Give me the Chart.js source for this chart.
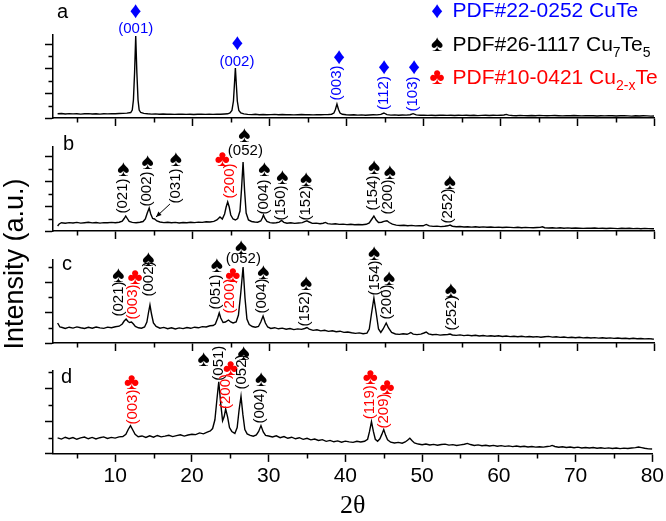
<!doctype html>
<html lang="en">
<head>
<meta charset="utf-8" />
<title>XRD CuTe / Cu7Te5 / Cu2-xTe</title>
<script src="https://cdn.jsdelivr.net/npm/chart.js@4.4.0/dist/chart.umd.min.js"></script>
<style>
  html, body { margin: 0; padding: 0; background: #fff; }
  #fig { position: relative; width: 666px; height: 521px; overflow: hidden; }
  #fig canvas { position: absolute; left: 0; top: 0; }
</style>
</head>
<body>
<div id="fig">
  <canvas id="panelA" width="666" height="521"></canvas>
  <canvas id="panelB" width="666" height="521"></canvas>
  <canvas id="panelC" width="666" height="521"></canvas>
  <canvas id="panelD" width="666" height="521"></canvas>
</div>
<script>
// ---- dati (2theta, intensita in u.a.) ----
const xMajor = [10, 20, 30, 40, 50, 60, 70, 80];
const xMinor = [5, 15, 25, 35, 45, 55, 65, 75];

// campione a
const thetaA = [
  2.5, 3, 3.5, 4, 4.5, 5, 5.5, 6, 6.5, 7, 7.5, 8, 8.5, 9, 9.5, 10, 10.5, 11, 11.5,
  12, 12.2, 12.35, 12.5, 12.65, 12.8, 12.95, 13.1, 13.3, 13.7,
  14.2, 14.7, 15.2, 15.7, 16.2, 16.7, 17.2, 17.7, 18.2, 18.7, 19.2, 19.7, 20.2, 20.7, 21.2, 21.7, 22.2, 22.7, 23.2, 23.7, 24.2,
  24.6, 24.9, 25.15, 25.35, 25.48, 25.6, 25.72, 25.85, 26.05, 26.3, 26.7,
  27.2, 27.7, 28.2, 28.7, 29.2, 29.7, 30.2, 30.7, 31.2, 31.7, 32.2, 32.7, 33.2, 33.7, 34.2, 34.7, 35.2, 35.7, 36.2, 36.7, 37.2, 37.7,
  38.1, 38.4, 38.6, 38.8, 39.0, 39.2, 39.5,
  40, 40.5, 41, 41.5, 42, 42.5, 43, 43.5, 44, 44.5,
  44.9, 45.3,
  45.8, 46.3, 46.8, 47.3, 47.8, 48.3,
  48.7, 49.1,
  49.6, 50.1, 50.6, 51.1, 51.6, 52.1, 52.6, 53.1, 53.6, 54.1, 54.6, 55.1, 55.6, 56.1, 56.6, 57.1, 57.6, 58.1, 58.6, 59.1, 59.6, 60.1,
  60.5, 60.8, 61.1,
  61.6, 62.1, 62.6, 63.1, 63.6, 64.1, 64.6, 65.1, 65.6, 66.1, 66.6, 67.1, 67.6, 68.1, 68.6, 69.1, 69.6, 70.1, 70.6,
  71.1, 71.6, 72.1, 72.6, 73.1, 73.6, 74.1, 74.6, 75.1, 75.6, 76.1, 76.6, 77.1, 77.6, 78.1, 78.6, 79.1, 79.6, 80
];
const intensityA = [
  4.2, 4.5, 4.0, 4.4, 4.1, 4.3, 3.9, 4.2, 4.4, 4.0, 4.2, 3.9, 4.3, 4.1, 4.4, 4.2, 4.5, 4.6, 4.9,
  5.5, 8, 18, 45, 82, 45, 18, 8, 5.5, 4.6,
  4.2, 3.9, 4.1, 3.8, 4.0, 3.7, 3.9, 3.6, 3.8, 3.9, 3.6, 3.8, 3.5, 3.7, 3.9, 3.6, 3.8, 3.6, 3.9, 3.7, 4.0,
  4.2, 5, 7.5, 17, 34, 50, 34, 17, 7.5, 5, 4.1,
  3.6, 3.4, 3.7, 3.3, 3.5, 3.2, 3.4, 3.6, 3.3, 3.5, 3.2, 3.4, 3.1, 3.3, 3.5, 3.2, 3.4, 3.1, 3.3, 3.2, 3.4, 3.5,
  3.8, 5, 8.5, 14, 8.5, 5, 3.7,
  3.2, 3.0, 3.3, 2.9, 3.1, 2.8, 3.0, 3.2, 3.1, 3.6,
  5, 3.4,
  2.9, 3.1, 2.8, 3.0, 2.9, 3.3,
  4.3, 3.1,
  2.7, 2.9, 2.6, 2.8, 2.5, 2.7, 2.9, 2.6, 2.8, 2.5, 2.7, 2.6, 2.8, 2.5, 2.7, 2.4, 2.6, 2.8, 2.5, 2.7, 2.6, 2.8,
  3.0, 3.6, 2.9,
  2.5, 2.3, 2.6, 2.4, 2.2, 2.5, 2.3, 2.6, 2.4, 2.2, 2.4, 2.5, 2.3, 2.1, 2.4, 2.2, 2.5, 2.3, 2.1,
  2.3, 2.4, 2.2, 2.0, 2.3, 2.1, 2.4, 2.2, 2.0, 2.2, 2.3, 2.1, 1.9, 2.2, 2.0, 2.3, 2.1, 1.9, 2.0
];

// campione b
const thetaB = [
  2.5, 2.7, 3.0,
  3.5, 4, 4.5, 5, 5.5, 6, 6.5, 7, 7.5, 8, 8.5, 9, 9.5, 10, 10.5,
  10.9, 11.15, 11.35, 11.55, 11.8,
  12.2, 12.7, 13.2, 13.6,
  13.9, 14.15, 14.4, 14.6, 14.85, 15.1, 15.4,
  15.8, 16.3, 16.8, 17.3, 17.8, 18.3, 18.8, 19.3, 19.8, 20.3, 20.8, 21.3, 21.8, 22.3, 22.8,
  23.2, 23.6, 23.9, 24.2, 24.4, 24.6, 24.8, 25.0, 25.3, 25.6, 25.9, 26.2, 26.4, 26.6, 26.8, 27.0, 27.3,
  27.7, 28.1, 28.5, 28.9,
  29.1, 29.25, 29.4, 29.7,
  30.1, 30.5, 30.9, 31.3,
  31.6, 31.9,
  32.3, 32.8, 33.3, 33.8, 34.3,
  34.6, 34.9, 35.2,
  35.6, 36.1, 36.6, 37.0,
  37.3, 37.6,
  38.1, 38.6, 39.1, 39.6, 40.1, 40.6, 41.1, 41.6, 42.1, 42.6,
  43.0, 43.3, 43.6, 43.9, 44.2, 44.6, 44.9, 45.3, 45.6, 46.0,
  46.5, 47, 47.5, 48, 48.5, 49, 49.5, 50.0,
  50.4, 50.8,
  51.3, 51.8, 52.3, 52.8,
  53.2, 53.5, 53.8,
  54.3, 54.8, 55.3, 55.8, 56.3, 56.8, 57.3, 57.8, 58.3, 58.8, 59.3, 59.8, 60.3, 60.8, 61.3, 61.8, 62.3, 62.8, 63.3, 63.8, 64.3, 64.8,
  65.2, 65.5, 65.8,
  66.3, 66.8, 67.3, 67.8, 68.3, 68.8, 69.3, 69.8, 70.3, 70.8, 71.3, 71.8, 72.3, 72.8, 73.3, 73.8, 74.3, 74.8,
  75.3, 75.8, 76.3, 76.8, 77.3, 77.8, 78.3, 78.8, 79.3, 79.8, 80
];
const intensityB = [
  5, 7, 8.3,
  7.8, 8.4, 8.0, 8.6, 7.9, 8.3, 8.7, 8.1, 8.5, 7.9, 8.4, 8.2, 8.6, 8.3, 8.8,
  9.8, 12.5, 15, 12.5, 9.5,
  8.6, 8.2, 8.8, 9.5,
  12, 18, 23, 17, 12.5, 12, 10,
  9.0, 8.4, 8.8, 8.2, 8.6, 8.0, 8.5, 8.3, 8.7, 8.4, 8.9, 8.6, 9.2, 9.0, 9.6,
  11, 14, 12, 17, 24, 29, 24, 16, 12, 11, 12.5, 20, 42, 69, 40, 18, 11,
  9.5, 9.0, 8.8, 10,
  13, 16, 13, 9.5,
  8.4, 8.0, 8.3, 8.9,
  10.5, 8.6,
  7.8, 8.2, 7.6, 8.0, 8.4,
  9.3, 10.2, 9.0,
  7.6, 7.9, 7.3, 7.8,
  8.6, 7.4,
  6.9, 7.2, 6.6, 6.9, 6.4, 6.7, 6.2, 6.5, 6.3, 6.7,
  8, 11.5, 15, 11, 8.5, 8.8, 9.6, 10.3, 8.5, 6.8,
  5.9, 5.5, 5.8, 5.3, 5.6, 5.1, 5.4, 5.2,
  6.6, 5.1,
  4.6, 4.9, 4.4, 4.7,
  5.2, 5.9, 4.8,
  4.2, 4.5, 4.0, 4.3, 3.9, 4.2, 3.8, 4.1, 3.7, 4.0, 3.6, 3.9, 3.5, 3.8, 3.6, 3.4, 3.7, 3.3, 3.6, 3.4, 3.2, 3.5,
  3.6, 4.2, 3.3,
  3.0, 3.3, 2.9, 3.2, 2.8, 3.1, 2.7, 3.0, 2.8, 2.6, 2.9, 2.7, 3.0, 2.6, 2.8, 2.5, 2.8, 2.6,
  2.4, 2.7, 2.5, 2.8, 2.4, 2.6, 2.3, 2.6, 2.4, 2.2, 2.3
];

// campione c
const thetaC = [
  2.5, 2.8, 3.1,
  3.5, 4, 4.5, 5, 5.5, 6, 6.5, 7, 7.5, 8, 8.5, 9, 9.5, 10, 10.5,
  10.9, 11.15, 11.4, 11.65, 11.85, 12.1, 12.35, 12.6,
  13.0, 13.4, 13.8,
  14.1, 14.3, 14.5, 14.7, 14.95, 15.3,
  15.8, 16.3, 16.8, 17.3, 17.8, 18.3, 18.8, 19.3, 19.8, 20.3, 20.8, 21.3, 21.8, 22.3,
  22.7, 23.0, 23.3, 23.5, 23.7, 24.0, 24.3, 24.7, 25.0, 25.3, 25.7, 26.0, 26.3, 26.6, 26.85, 27.1, 27.4, 27.8,
  28.2, 28.6,
  28.9, 29.2, 29.5, 29.8,
  30.2, 30.7, 31.2, 31.7, 32.2, 32.7, 33.2, 33.7, 34.2,
  34.6, 34.9, 35.2,
  35.7, 36.2, 36.7, 37.2, 37.7, 38.2, 38.7, 39.2, 39.7, 40.2, 40.7, 41.2, 41.7, 42.2, 42.7,
  43.0, 43.3, 43.6, 43.9, 44.2, 44.5, 44.8, 45.2, 45.5, 45.9, 46.4,
  46.9, 47.4, 47.9,
  48.2, 48.4, 48.7,
  49.2, 49.7,
  50.1, 50.4, 50.7,
  51.2, 51.7, 52.2, 52.7,
  53.2, 53.5, 53.8,
  54.3, 54.8, 55.3, 55.8, 56.3, 56.8, 57.3, 57.8, 58.3, 58.8, 59.3, 59.8, 60.3, 60.8, 61.3, 61.8, 62.3, 62.8,
  63.3, 63.8, 64.3, 64.8, 65.3, 65.8, 66.3, 66.8, 67.3, 67.8, 68.3, 68.8, 69.3, 69.8, 70.3, 70.8, 71.3, 71.8,
  72.3, 72.8, 73.3, 73.8, 74.3, 74.8, 75.3, 75.8, 76.3, 76.8, 77.3, 77.8, 78.3, 78.8, 79.3, 79.8, 80
];
const intensityC = [
  20, 16, 15.5,
  14.6, 15.8, 14.9, 16.1, 15.2, 14.5, 15.7, 14.8, 16.0, 15.1, 14.6, 15.9, 15.3, 16.2, 16.8,
  19, 22, 24, 21.5, 20.5, 21, 19, 16.5,
  15.2, 14.8, 16,
  21, 30, 38, 29, 20, 16.5,
  14.8, 15.6, 14.3, 15.2, 14.0, 15.1, 14.4, 15.5, 14.7, 15.8, 15.2, 16.4, 16.0, 17.2,
  17.5, 19, 25, 30, 25, 20.5, 21, 23, 21, 20, 21, 28, 50, 76, 45, 24, 18.5, 16.5,
  15.8, 16.5,
  21, 27, 20, 16,
  14.6, 15.3, 14.2, 14.9, 13.8, 14.5, 13.4, 14.1, 13.6,
  14.5, 15.5, 13.9,
  12.6, 13.2, 12.1, 12.7, 11.6, 12.2, 11.2, 11.8, 10.6, 11.0, 10.2, 9.6, 10.1, 9.3, 9.8,
  14, 30, 45, 30, 14, 10.5, 14, 20, 15, 10.5, 9.0,
  8.6, 9.2, 8.7,
  9.6, 10.5, 8.9,
  8.4, 8.9,
  10, 11, 9.1,
  8.2, 8.6, 7.9, 8.3,
  8.5, 9.0, 8.0,
  7.6, 8.1, 7.4, 7.9, 7.2, 7.7, 7.0, 7.5, 6.9, 7.3, 6.7, 7.2, 6.5, 7.0, 6.4, 6.8, 6.2, 6.7,
  6.1, 6.5, 6.0, 6.4, 5.8, 6.3, 6.6, 5.9, 6.2, 5.6, 6.0, 5.4, 5.8, 5.3, 5.7, 5.1, 5.5, 5.0,
  5.4, 4.9, 5.2, 4.7, 5.1, 4.6, 5.0, 4.5, 4.8, 4.3, 4.7, 4.2, 4.5, 4.1, 4.4, 4.0, 3.9
];

// campione d
const thetaD = [
  2.5, 3, 3.5, 4, 4.5, 5, 5.5, 6, 6.5, 7, 7.5, 8, 8.5, 9, 9.5, 10, 10.5,
  11.0, 11.4, 11.7, 12.0, 12.3, 12.6, 13.0,
  13.5, 14, 14.5, 15, 15.5, 16, 16.5, 17, 17.5, 18, 18.5, 19, 19.5, 20,
  20.5, 21.0, 21.5, 22.0, 22.4, 22.7, 23.0, 23.25, 23.5, 23.75, 24.0, 24.2, 24.4, 24.65, 24.9, 25.2, 25.6, 25.9, 26.15, 26.4, 26.65, 26.9, 27.2, 27.6,
  28.0, 28.4, 28.7, 29.0, 29.3, 29.6, 30.0,
  30.5, 31, 31.5, 32, 32.5, 33, 33.5, 34, 34.5, 35, 35.5, 36, 36.5, 37, 37.5, 38, 38.5, 39, 39.5, 40, 40.5, 41, 41.5, 42, 42.5,
  42.9, 43.15, 43.4, 43.65, 43.9, 44.2, 44.5, 44.75, 45.0, 45.25, 45.5, 45.9,
  46.4, 46.9, 47.4, 47.8,
  48.1, 48.4, 48.7, 49.0,
  49.5, 50, 50.5, 51, 51.5, 52, 52.5, 53, 53.5, 54, 54.5, 55,
  55.5, 55.9, 56.3,
  56.8, 57.3, 57.8, 58.3, 58.8, 59.3, 59.8, 60.3, 60.8, 61.3, 61.8, 62.3, 62.8, 63.3, 63.8, 64.3, 64.8, 65.3, 65.8, 66.3,
  66.7, 66.95, 67.3,
  67.8, 68.3, 68.8, 69.3, 69.8, 70.3, 70.8, 71.3, 71.8, 72.3, 72.8, 73.3, 73.8, 74.3, 74.8, 75.3, 75.8, 76.3, 76.8, 77.3, 77.8,
  78.2, 78.6, 79.0, 79.5, 80
];
const intensityD = [
  16.5, 15.2, 17.1, 15.6, 16.8, 15.0, 16.4, 17.3, 15.5, 16.9, 15.3, 16.6, 17.4, 15.8, 16.9, 16.2, 17.5,
  17.8, 20, 25, 29, 24.5, 20, 17.6,
  18.4, 16.9, 18.6, 17.2, 18.9, 17.5, 18.2, 19.1, 17.7, 18.8, 19.6, 18.3, 19.4, 20.2,
  19.8, 21.5, 20.6, 22.4, 23.5, 26, 35, 55, 74, 52, 34, 38, 46, 38, 27, 23, 21, 27, 45, 59, 40, 25, 20.5, 19,
  18.2, 19.5, 23, 29, 22.5, 19, 18.3,
  17.4, 18.5, 16.6, 17.8, 16.0, 17.1, 15.5, 16.6, 14.9, 16.0, 14.4, 15.2, 13.8, 14.6, 12.9, 13.8, 12.4, 13.3, 12.0, 13.1, 12.3, 11.8, 12.9, 12.2, 13.0,
  15, 23, 33, 23, 15, 13, 15.5, 20, 25, 19, 14.5, 12,
  11.2, 11.8, 11.0, 12.2,
  14, 16, 13.5, 11.2,
  10.1, 9.4, 10.2, 9.1, 9.8, 8.9, 9.6, 10.0, 9.0, 9.5, 8.7, 9.3,
  9.9, 10.8, 9.6,
  8.6, 9.2, 8.4, 8.9, 8.1, 8.7, 7.9, 8.5, 7.7, 8.2, 7.5, 8.1, 7.3, 7.9, 7.1, 7.6, 7.0, 7.4, 7.0, 7.6,
  8.0, 8.7, 7.6,
  6.8, 7.3, 6.5, 7.0, 6.3, 6.9, 6.1, 6.6, 6.0, 6.5, 5.8, 6.3, 5.7, 6.2, 5.5, 6.0, 5.4, 5.9, 5.6, 6.1, 6.4,
  7.0, 6.4, 5.8, 5.2, 5.0
];

// fasi di riferimento (simbolo, colore)
const phaseSymbol = ['\u2666', '\u2660', '\u2663'];
const phaseColor = ['#0000ff', '#000000', '#ff0000'];

// indicizzazione dei picchi: simbolo (sx, sy) e etichetta (lx, ly) in coordinate 2theta / intensita
const marksA = [
  {hkl: '(001)', phase: 0, sx: 12.65, sy: 107, lx: 12.65, ly: 89, rot: false},
  {hkl: '(002)', phase: 0, sx: 25.86, sy: 75, lx: 25.8, ly: 56, rot: false},
  {hkl: '(003)', phase: 0, sx: 39.08, sy: 61, lx: 38.75, ly: 35, rot: true},
  {hkl: '(112)', phase: 0, sx: 44.93, sy: 51, lx: 44.9, ly: 25, rot: true},
  {hkl: '(103)', phase: 0, sx: 48.83, sy: 51, lx: 48.7, ly: 24, rot: true}
];
const marksB = [
  {hkl: '(021)', phase: 1, sx: 11.04, sy: 62, lx: 11.0, ly: 35, rot: true},
  {hkl: '(002)', phase: 1, sx: 14.21, sy: 69, lx: 14.08, ly: 42, rot: true},
  {hkl: '(031)', phase: 1, sx: 17.85, sy: 72, lx: 17.85, ly: 45, rot: true},
  {hkl: '(200)', phase: 2, sx: 23.91, sy: 72, lx: 24.91, ly: 50, rot: true},
  {hkl: '(052)', phase: 1, sx: 26.77, sy: 96, lx: 26.9, ly: 80, rot: false},
  {hkl: '(004)', phase: 1, sx: 29.37, sy: 62, lx: 29.24, ly: 34, rot: true},
  {hkl: '(150)', phase: 1, sx: 31.71, sy: 54, lx: 31.54, ly: 28, rot: true},
  {hkl: '(152)', phase: 1, sx: 34.79, sy: 52, lx: 34.75, ly: 28, rot: true},
  {hkl: '(154)', phase: 1, sx: 43.63, sy: 64, lx: 43.5, ly: 38, rot: true},
  {hkl: '(200)', phase: 1, sx: 45.67, sy: 59, lx: 45.46, ly: 34, rot: true},
  {hkl: '(252)', phase: 1, sx: 53.48, sy: 49, lx: 53.26, ly: 25, rot: true}
];
const marksC = [
  {hkl: '(021)', phase: 1, sx: 10.39, sy: 68, lx: 10.52, ly: 44, rot: true},
  {hkl: '(003)', phase: 2, sx: 12.56, sy: 66, lx: 12.34, ly: 41, rot: true},
  {hkl: '(002)', phase: 1, sx: 14.29, sy: 84.5, lx: 14.42, ly: 64, rot: true},
  {hkl: '(051)', phase: 1, sx: 23.18, sy: 78, lx: 23.09, ly: 51, rot: true},
  {hkl: '(200)', phase: 2, sx: 25.26, sy: 68, lx: 24.91, ly: 47, rot: true},
  {hkl: '(052)', phase: 1, sx: 26.34, sy: 96, lx: 26.64, ly: 84.5, rot: false},
  {hkl: '(004)', phase: 1, sx: 29.24, sy: 71, lx: 29.03, ly: 47, rot: true},
  {hkl: '(152)', phase: 1, sx: 34.79, sy: 60, lx: 34.66, ly: 34, rot: true},
  {hkl: '(154)', phase: 1, sx: 43.63, sy: 90, lx: 43.72, ly: 65, rot: true},
  {hkl: '(200)', phase: 1, sx: 45.58, sy: 65, lx: 45.33, ly: 41, rot: true},
  {hkl: '(252)', phase: 1, sx: 53.61, sy: 53, lx: 53.69, ly: 30, rot: true}
];
const marksD = [
  {hkl: '(003)', phase: 2, sx: 12.13, sy: 74, lx: 12.34, ly: 48, rot: true},
  {hkl: '(051)', phase: 1, sx: 21.53, sy: 98, lx: 23.55, ly: 93, rot: true},
  {hkl: '(200)', phase: 2, sx: 25.04, sy: 88, lx: 24.48, ly: 64, rot: true},
  {hkl: '(052)', phase: 1, sx: 26.73, sy: 104, lx: 26.47, ly: 84, rot: true},
  {hkl: '(004)', phase: 1, sx: 29.03, sy: 77, lx: 28.9, ly: 49, rot: true},
  {hkl: '(119)', phase: 2, sx: 43.25, sy: 79, lx: 43.2, ly: 53, rot: true},
  {hkl: '(209)', phase: 2, sx: 45.42, sy: 69, lx: 45.07, ly: 44, rot: true}
];
// freccia (031) del campione b: da etichetta a spalla del picco
const arrowsB = [{x1: 17.1, y1: 27, x2: 15.28, y2: 14}];

// legenda: testo diviso in parti normali / pedici
const legendRows = [
  {phase: 0, parts: [['PDF#22-0252 CuTe', false]]},
  {phase: 1, parts: [['PDF#26-1117 Cu', false], ['7', true], ['Te', false], ['5', true]]},
  {phase: 2, parts: [['PDF#10-0421 Cu', false], ['2-x', true], ['Te', false]]}
];
const yTitle = 'Intensity (a.u.)';
const xTitle = '2\u03b8';

const SANS = '"Liberation Sans", Arial, sans-serif';

// pannelli: posizione area dati (pixel) e tacche
const panels = [
  {canvas: 'panelA', letter: 'a', theta: thetaA, intensity: intensityA, marks: marksA, arrows: [],
   top: 35, bottom: 118, yMajor: [0, 24.67, 49.33, 74], yMinor: [12.33, 37, 61.67], letterAt: [4, -17]},
  {canvas: 'panelB', letter: 'b', theta: thetaB, intensity: intensityB, marks: marksB, arrows: arrowsB,
   top: 147, bottom: 231, yMajor: [0, 25, 50, 75], yMinor: [12.5, 37.5, 62.5], letterAt: [10, 3]},
  {canvas: 'panelC', letter: 'c', theta: thetaC, intensity: intensityC, marks: marksC, arrows: [],
   top: 260, bottom: 343, yMajor: [0, 30.4, 60.8], yMinor: [15.2, 45.6, 76], letterAt: [9, 10]},
  {canvas: 'panelD', letter: 'd', theta: thetaD, intensity: intensityD, marks: marksD, arrows: [],
   top: 371, bottom: 456, yMajor: [0, 33.4, 66.8], yMinor: [16.7, 50.1, 83.5], letterAt: [8, 12]}
];

function buildPoints(xs, ys) {
  const n = Math.min(xs.length, ys.length);
  const pts = [];
  for (let i = 0; i < n; i++) pts.push({x: xs[i], y: ys[i]});
  return pts;
}

//plugin per tacche minori, lettera del pannello, simboli e indici hkl
function panelDecor(p) {
  return {
    id: 'panelDecor',
    afterDraw(chart) {
      const ctx = chart.ctx;
      const sx = chart.scales.x, sy = chart.scales.y;
      const area = chart.chartArea;
      ctx.save();
      ctx.strokeStyle = '#000';
      ctx.lineWidth = 1.5;
      ctx.beginPath();
      xMinor.forEach(v => {
        const px = Math.round(sx.getPixelForValue(v)) + 0.5;
        ctx.moveTo(px, area.bottom);
        ctx.lineTo(px, area.bottom + 4.5);
      });
      p.yMinor.forEach(v => {
        const py = Math.round(sy.getPixelForValue(v)) + 0.5;
        ctx.moveTo(area.left, py);
        ctx.lineTo(area.left - 4.5, py);
      });
      ctx.stroke();

      ctx.fillStyle = '#000';
      ctx.font = '20px ' + SANS;
      ctx.textAlign = 'left';
      ctx.textBaseline = 'alphabetic';
      ctx.fillText(p.letter, area.left + p.letterAt[0], area.top + p.letterAt[1]);

      ctx.textAlign = 'center';
      ctx.textBaseline = 'middle';
      p.marks.forEach(m => {
        ctx.fillStyle = phaseColor[m.phase];
        ctx.font = '23px ' + SANS;
        ctx.fillText(phaseSymbol[m.phase], sx.getPixelForValue(m.sx), sy.getPixelForValue(m.sy) + 1);
        ctx.font = '15px ' + SANS;
        const lx = sx.getPixelForValue(m.lx), ly = sy.getPixelForValue(m.ly);
        if (m.rot) {
          ctx.save();
          ctx.translate(lx, ly);
          ctx.rotate(-Math.PI / 2);
          ctx.fillText(m.hkl, 0, 0);
          ctx.restore();
        } else {
          ctx.fillText(m.hkl, lx, ly);
        }
      });

      p.arrows.forEach(a => {
        const x1 = sx.getPixelForValue(a.x1), y1 = sy.getPixelForValue(a.y1);
        const x2 = sx.getPixelForValue(a.x2), y2 = sy.getPixelForValue(a.y2);
        const ang = Math.atan2(y2 - y1, x2 - x1);
        ctx.strokeStyle = '#000';
        ctx.fillStyle = '#000';
        ctx.lineWidth = 1;
        ctx.beginPath();
        ctx.moveTo(x1, y1);
        ctx.lineTo(x2, y2);
        ctx.stroke();
        ctx.beginPath();
        ctx.moveTo(x2, y2);
        ctx.lineTo(x2 - 6 * Math.cos(ang - 0.4), y2 - 6 * Math.sin(ang - 0.4));
        ctx.lineTo(x2 - 6 * Math.cos(ang + 0.4), y2 - 6 * Math.sin(ang + 0.4));
        ctx.closePath();
        ctx.fill();
      });
      ctx.restore();
    }
  };
}

//plugin per titolo asse Y e legenda delle schede PDF
const figureText = {
  id: 'figureText',
  afterDraw(chart) {
    const ctx = chart.ctx;
    ctx.save();
    ctx.fillStyle = '#000';
    ctx.font = '27px ' + SANS;
    ctx.textAlign = 'center';
    ctx.textBaseline = 'middle';
    ctx.translate(16, 264);
    ctx.rotate(-Math.PI / 2);
    ctx.fillText(yTitle, 0, 0);
    ctx.restore();

    ctx.save();
    legendRows.forEach((row, i) => {
      const base = 17.3 + i * 33.4;
      ctx.fillStyle = phaseColor[row.phase];
      ctx.textAlign = 'center';
      ctx.textBaseline = 'middle';
      ctx.font = '23px ' + SANS;
      ctx.fillText(phaseSymbol[row.phase], 437, base - 6);
      ctx.textAlign = 'left';
      ctx.textBaseline = 'alphabetic';
      let x = 452.5;
      row.parts.forEach(([txt, sub]) => {
        ctx.font = (sub ? '14px ' : '21px ') + SANS;
        ctx.fillText(txt, x, base + (sub ? 6 : 0));
        x += ctx.measureText(txt).width;
      });
    });
    ctx.restore();
  }
};

panels.forEach(p => {
  const isBottom = p.letter === 'd';
  const xAxisHeight = isBottom ? 8 + 2 + 21 * 1.2 + 26 * 1.15 : 8;
  const axisGrid = {display: true, drawOnChartArea: false, drawTicks: true, tickLength: 8,
                    tickWidth: 1.5, color: '#000', tickColor: '#000'};
  const axisBorder = {display: true, color: '#000', width: 1.5};
  new Chart(document.getElementById(p.canvas), {
    type: 'line',
    data: {
      datasets: [{
        data: buildPoints(p.theta, p.intensity),
        borderColor: '#000',
        borderWidth: 1.4,
        pointRadius: 0,
        tension: 0,
        fill: false
      }]
    },
    options: {
      responsive: false,
      animation: false,
      events: [],
      layout: {padding: {left: 45, right: 12, top: p.top, bottom: Math.max(0, 521 - p.bottom - xAxisHeight)}},
      plugins: {legend: {display: false}, tooltip: {enabled: false}},
      scales: {
        x: {
          type: 'linear', min: 1.9, max: 80,
          afterBuildTicks: s => { s.ticks = xMajor.map(v => ({value: v})); },
          ticks: {display: isBottom, padding: 2, color: '#000', maxRotation: 0, autoSkip: false,
                  font: {family: SANS, size: 21, lineHeight: 1.2}},
          grid: axisGrid,
          border: axisBorder,
          title: {display: isBottom, text: xTitle, color: '#000', padding: 0,
                  font: {family: '"Liberation Serif", "Times New Roman", serif', size: 26, lineHeight: 1.15}}
        },
        y: {
          type: 'linear', min: 0, max: p.bottom - p.top,
          afterBuildTicks: s => { s.ticks = p.yMajor.map(v => ({value: v})); },
          ticks: {display: false},
          grid: axisGrid,
          border: axisBorder
        }
      }
    },
    plugins: p.letter === 'a' ? [panelDecor(p), figureText] : [panelDecor(p)]
  });
});
</script>
</body>
</html>
